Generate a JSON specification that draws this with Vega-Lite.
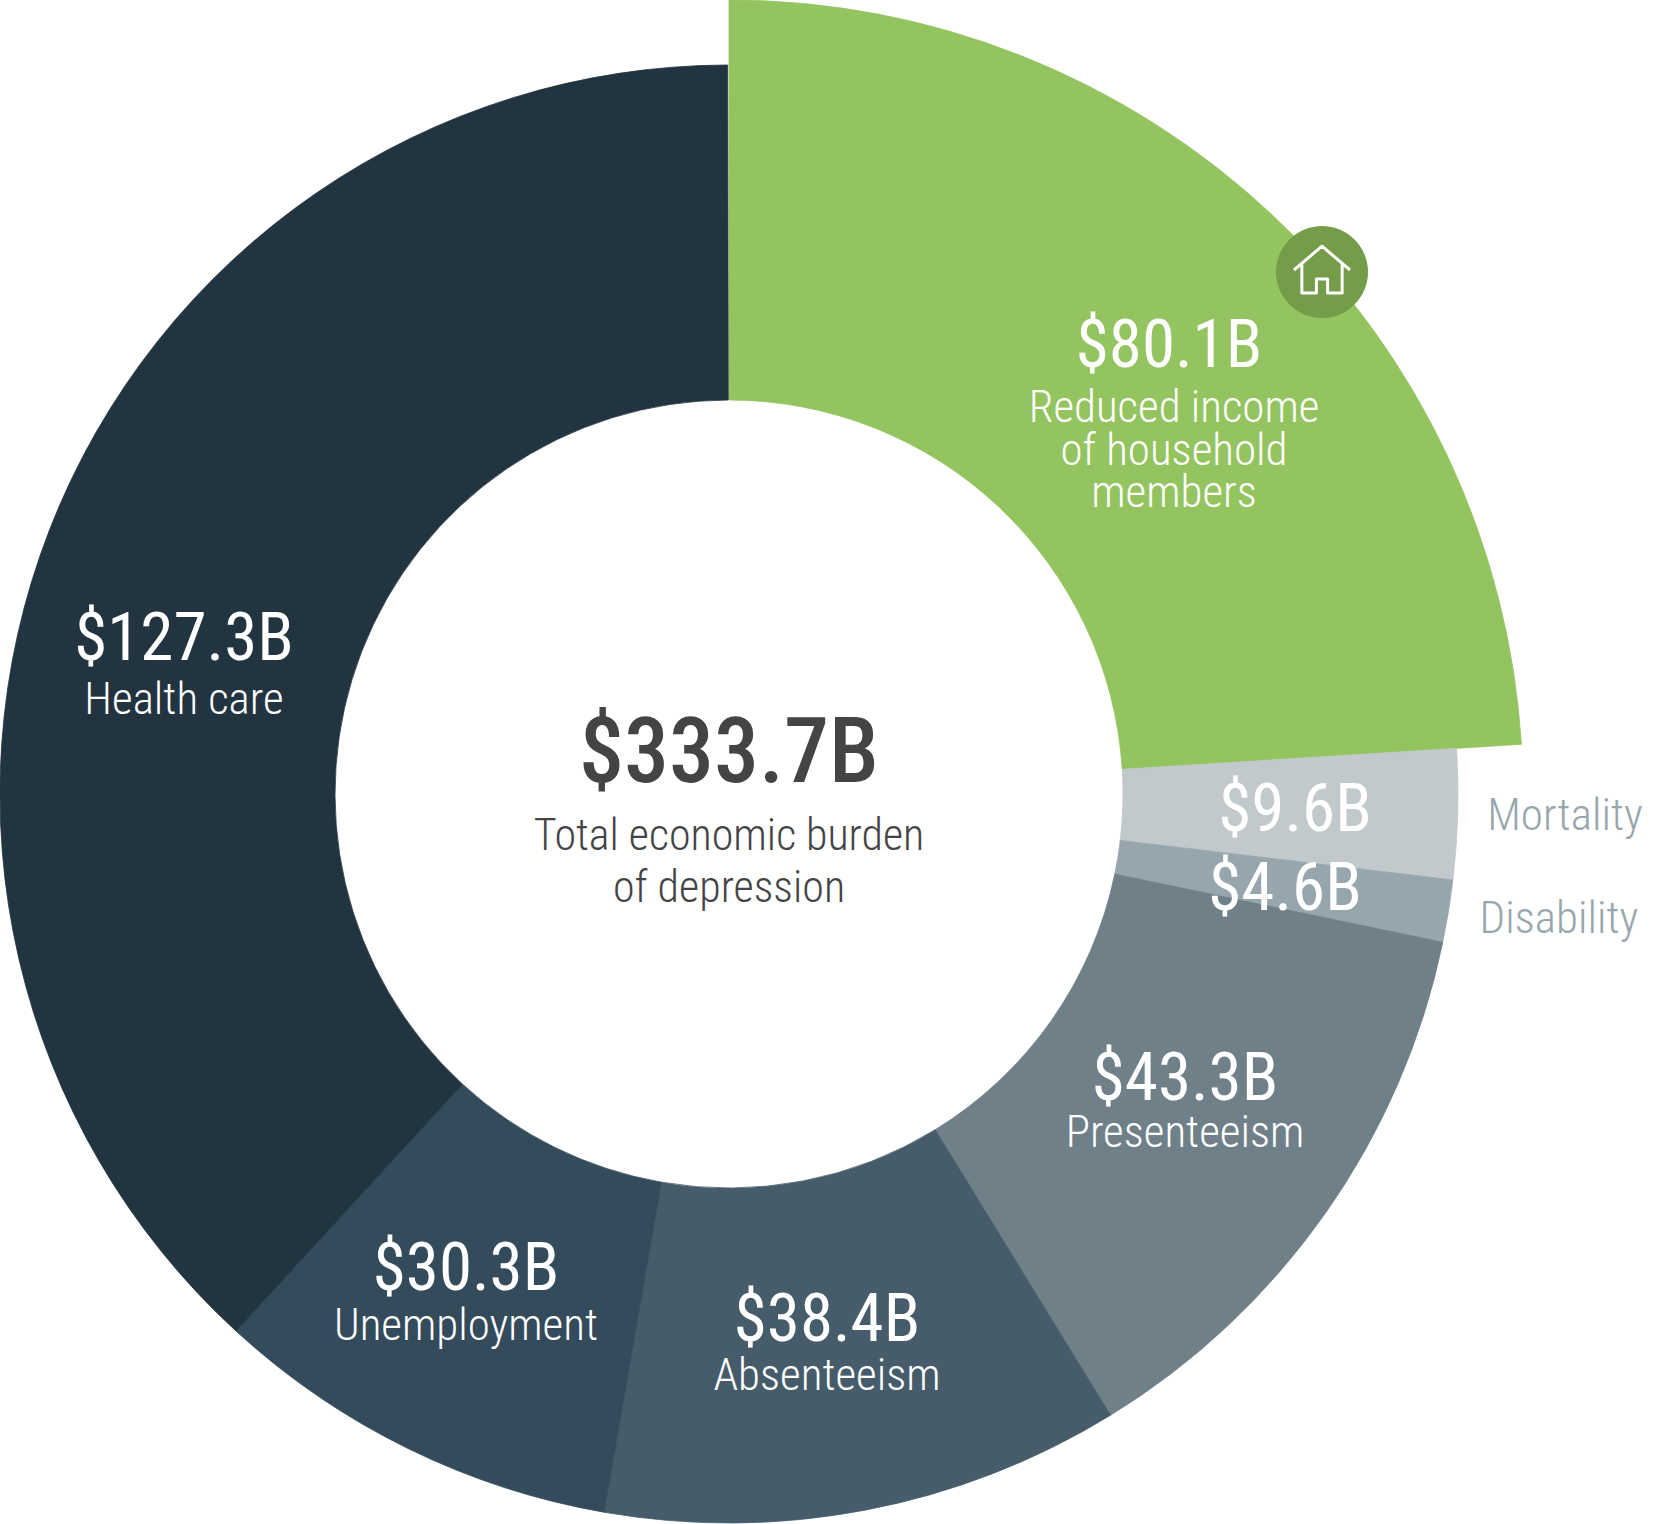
{
"$schema":"https://vega.github.io/schema/vega-lite/v6.json",
"width":1680,"height":1524,"padding":0,"background":"white",
"autosize":{"type":"none"},
"config":{"view":{"stroke":null}},
"datasets":{
"segments":[
{"rank":1,"category":"Reduced income of household members","value":80.1,"group":"Household","amount":"$80.1B","name":"Reduced income\nof household\nmembers"},
{"rank":2,"category":"Mortality","value":9.6,"group":"Patient","amount":"$9.6B","name":"Mortality"},
{"rank":3,"category":"Disability","value":4.6,"group":"Patient","amount":"$4.6B","name":"Disability"},
{"rank":4,"category":"Presenteeism","value":43.3,"group":"Patient","amount":"$43.3B","name":"Presenteeism"},
{"rank":5,"category":"Absenteeism","value":38.4,"group":"Patient","amount":"$38.4B","name":"Absenteeism"},
{"rank":6,"category":"Unemployment","value":30.3,"group":"Patient","amount":"$30.3B","name":"Unemployment"},
{"rank":7,"category":"Health care","value":127.3,"group":"Patient","amount":"$127.3B","name":"Health care"}
],
"total":[{"value":333.7,"amount":"$333.7B","name":"Total economic burden\nof depression"}],
"icon":[{"value":80.1}]
},
"resolve":{"scale":{"x":"independent","y":"independent","color":"independent"}},
"layer":[
{"data":{"name":"segments"},
 "transform":[{"stack":"value","sort":[{"field":"rank","order":"ascending"}],"as":["start","end"]}],
 "mark":{"type":"arc","strokeWidth":0.8},
 "encoding":{
  "theta":{"field":"start","type":"quantitative","stack":null,"scale":{"domain":[0,333.7],"range":[0,6.283185307]}},
  "theta2":{"field":"end"},
  "radius":{"field":"group","type":"nominal","scale":{"type":"point","padding":0,"domain":["Patient","Household"],"range":[729,794]}},
  "radius2":{"value":394},
  "x":{"datum":0,"type":"quantitative","scale":{"domain":[-729,951],"range":[0,1680]},"axis":null},
  "y":{"datum":0,"type":"quantitative","scale":{"domain":[-794,730],"range":[0,1524]},"axis":null},
  "color":{"field":"category","type":"nominal","legend":null,"scale":{"domain":["Reduced income of household members","Mortality","Disability","Presenteeism","Absenteeism","Unemployment","Health care"],"range":["#93c45f","#c1c9cc","#97a6ad","#6f8089","#465c6b","#344b5b","#22343f"]}},
  "stroke":{"field":"category","type":"nominal","legend":null,"scale":{"domain":["Reduced income of household members","Mortality","Disability","Presenteeism","Absenteeism","Unemployment","Health care"],"range":["#93c45f","#c1c9cc","#97a6ad","#6f8089","#465c6b","#344b5b","#22343f"]}}
 }},
{"data":{"name":"segments"},
 "mark":{"type":"text","align":"center","baseline":"alphabetic","font":"Roboto Condensed, Roboto","fontSize":67,"color":"white"},
 "encoding":{
  "text":{"field":"amount"},
  "x":{"field":"value","type":"quantitative","axis":null,"scale":{"zero":false,"nice":false,"domain":[4.6,9.6,30.3,38.4,43.3,80.1,127.3],"range":[1285,1295,466,827,1185,1169,184]}},
  "y":{"field":"value","type":"quantitative","axis":null,"scale":{"zero":false,"nice":false,"domain":[4.6,9.6,30.3,38.4,43.3,80.1,127.3],"range":[910,831,1290,1341,1100,367,660]}}
 }},
{"data":{"name":"segments"},
 "mark":{"type":"text","align":"center","baseline":"alphabetic","font":"Roboto Condensed, Roboto","fontSize":45,"fontWeight":300,"lineBreak":"\n","lineHeight":42.5},
 "encoding":{
  "text":{"field":"name"},
  "x":{"field":"value","type":"quantitative","axis":null,"scale":{"zero":false,"nice":false,"domain":[4.6,9.6,30.3,38.4,43.3,80.1,127.3],"range":[1559,1565,466,827,1185,1174,184]}},
  "y":{"field":"value","type":"quantitative","axis":null,"scale":{"zero":false,"nice":false,"domain":[4.6,9.6,30.3,38.4,43.3,80.1,127.3],"range":[933,830,1340,1390,1147,422,714]}},
  "color":{"field":"category","type":"nominal","legend":null,"scale":{"domain":["Reduced income of household members","Mortality","Disability","Presenteeism","Absenteeism","Unemployment","Health care"],"range":["#ffffff","#97a6ad","#97a6ad","#ffffff","#ffffff","#ffffff","#ffffff"]}}
 }},
{"data":{"name":"total"},
 "mark":{"type":"text","align":"center","baseline":"alphabetic","font":"Roboto Condensed, Roboto","fontSize":90,"fontWeight":500,"color":"#444446"},
 "encoding":{
  "text":{"field":"amount"},
  "x":{"field":"value","type":"quantitative","axis":null,"scale":{"domain":[0,333.7],"range":[0,729]}},
  "y":{"field":"value","type":"quantitative","axis":null,"scale":{"domain":[0,333.7],"range":[0,782]}}
 }},
{"data":{"name":"total"},
 "mark":{"type":"text","align":"center","baseline":"alphabetic","font":"Roboto Condensed, Roboto","fontSize":44,"fontWeight":300,"lineBreak":"\n","lineHeight":51.5,"color":"#444446"},
 "encoding":{
  "text":{"field":"name"},
  "x":{"field":"value","type":"quantitative","axis":null,"scale":{"domain":[0,333.7],"range":[0,729]}},
  "y":{"field":"value","type":"quantitative","axis":null,"scale":{"domain":[0,333.7],"range":[0,850]}}
 }},
{"data":{"name":"icon"},
 "mark":{"type":"circle","size":8464,"color":"#749c49","opacity":1},
 "encoding":{
  "x":{"field":"value","type":"quantitative","axis":null,"scale":{"domain":[0,80.1],"range":[0,1322]}},
  "y":{"field":"value","type":"quantitative","axis":null,"scale":{"domain":[0,80.1],"range":[0,272]}}
 }},
{"data":{"name":"icon"},
 "mark":{"type":"point","filled":false,"size":3136,"opacity":1,"stroke":"#ffffff","strokeWidth":3,"strokeJoin":"round","shape":"M -1 0 L 0 -0.85 L 1 0 M -0.72 -0.2 L -0.72 0.82 L -0.2 0.82 L -0.2 0.32 L 0.2 0.32 L 0.2 0.82 L 0.72 0.82 L 0.72 -0.2"},
 "encoding":{
  "x":{"field":"value","type":"quantitative","axis":null,"scale":{"domain":[0,80.1],"range":[0,1322]}},
  "y":{"field":"value","type":"quantitative","axis":null,"scale":{"domain":[0,80.1],"range":[0,270]}}
 }}
]
}
